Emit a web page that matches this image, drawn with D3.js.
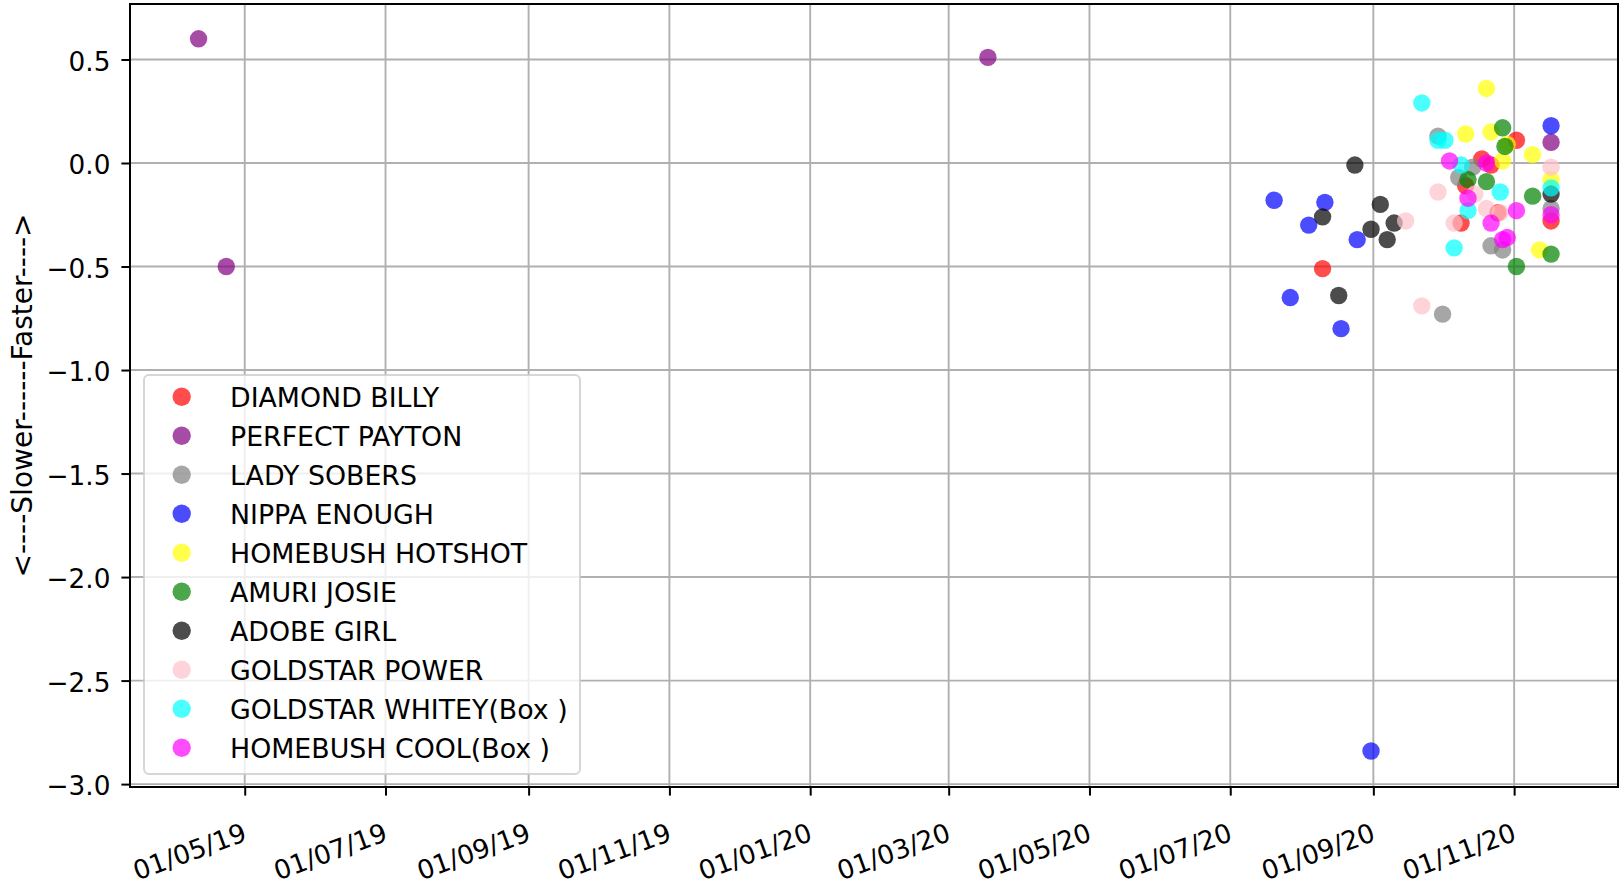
<!DOCTYPE html>
<html>
<head>
<meta charset="utf-8">
<script src="https://cdn.jsdelivr.net/npm/d3@7"></script>
<style>
  body { margin: 0; background: #fff; }
  text { font-family: "DejaVu Sans", sans-serif; fill: #000; }
</style>
</head>
<body>
<div id="chart"></div>
<script>
// horses, in legend order
const horses = [
    "DIAMOND BILLY",
    "PERFECT PAYTON",
    "LADY SOBERS",
    "NIPPA ENOUGH",
    "HOMEBUSH HOTSHOT",
    "AMURI JOSIE",
    "ADOBE GIRL",
    "GOLDSTAR POWER",
    "GOLDSTAR WHITEY(Box )",
    "HOMEBUSH COOL(Box )"
];
const horseColors = ["red", "purple", "grey", "blue", "yellow", "green", "black", "pink", "cyan", "magenta"];

// [race date, speed difference]
const diamondBilly = [["2020-08-10", -0.51], ["2020-10-09", -0.29], ["2020-10-11", -0.11], ["2020-10-18", 0.02],
    ["2020-10-22", -0.01], ["2020-10-25", -0.24], ["2020-11-02", 0.11], ["2020-11-17", -0.28]];
const perfectPayton = [["2019-04-11", 0.60], ["2019-04-23", -0.50], ["2020-03-18", 0.51], ["2020-11-17", 0.10]];
const ladySobers = [["2020-09-29", 0.13], ["2020-10-01", -0.73], ["2020-10-08", -0.07], ["2020-10-14", -0.02],
    ["2020-10-22", -0.40], ["2020-10-27", -0.42], ["2020-11-17", -0.22]];
const nippaEnough = [["2020-07-20", -0.18], ["2020-07-27", -0.65], ["2020-08-04", -0.30], ["2020-08-11", -0.19],
    ["2020-08-18", -0.80], ["2020-08-25", -0.37], ["2020-08-31", -2.84], ["2020-11-17", 0.18]];
const homebushHotshot = [["2020-10-11", 0.14], ["2020-10-20", 0.36], ["2020-10-22", 0.15], ["2020-10-27", 0.01],
    ["2020-10-29", 0.09], ["2020-11-09", 0.04], ["2020-11-12", -0.42], ["2020-11-17", -0.08]];
const amuriJosie = [["2020-10-12", -0.08], ["2020-10-20", -0.09], ["2020-10-27", 0.17], ["2020-10-28", 0.08],
    ["2020-11-02", -0.50], ["2020-11-09", -0.16], ["2020-11-17", -0.44]];
const adobeGirl = [["2020-08-10", -0.26], ["2020-08-17", -0.64], ["2020-08-24", -0.01], ["2020-08-31", -0.32],
    ["2020-09-04", -0.20], ["2020-09-07", -0.37], ["2020-09-10", -0.29], ["2020-11-17", -0.15]];
const goldstarPower = [["2020-09-15", -0.28], ["2020-09-22", -0.69], ["2020-09-29", -0.14], ["2020-10-06", -0.29],
    ["2020-10-15", -0.15], ["2020-10-20", -0.22], ["2020-10-26", -0.24], ["2020-11-17", -0.02]];
const goldstarWhitey = [["2020-09-22", 0.29], ["2020-09-29", 0.11], ["2020-10-02", 0.11], ["2020-10-06", -0.41],
    ["2020-10-09", -0.01], ["2020-10-12", -0.23], ["2020-10-26", -0.14], ["2020-11-17", -0.12]];
const homebushCool = [["2020-10-04", 0.01], ["2020-10-12", -0.17], ["2020-10-20", 0.00], ["2020-10-22", -0.29],
    ["2020-10-27", -0.37], ["2020-10-29", -0.36], ["2020-11-02", -0.23], ["2020-11-17", -0.25]];

const seriesValues = [diamondBilly, perfectPayton, ladySobers, nippaEnough, homebushHotshot,
    amuriJosie, adobeGirl, goldstarPower, goldstarWhitey, homebushCool];

const yTicks = [-3.0, -2.5, -2.0, -1.5, -1.0, -0.5, 0.0, 0.5];
const yLabel = "<----Slower------Faster---->";

// setting
const width = 1619;
const height = 888;
const plot = { left: 130, right: 1618, top: 4, bottom: 787 };
const tickFont = "26.3px";
const parseDate = d3.timeParse("%Y-%m-%d");

const series = horses.map((name, i) => ({
    name: name,
    color: horseColors[i],
    points: seriesValues[i].map(d => ({ date: parseDate(d[0]), value: d[1] }))
}));

const x = d3.scaleTime()
    .domain([new Date(2019, 2, 12, 7), new Date(2020, 11, 16)])
    .range([plot.left, plot.right]);
const y = d3.scaleLinear()
    .domain([-3.014, 0.768])
    .range([plot.bottom, plot.top]);

const xTicks = d3.timeMonth.every(2).range(new Date(2019, 4, 1), new Date(2020, 11, 2));

const svg = d3.select("#chart").append("svg")
    .attr("width", width)
    .attr("height", height);

// grid
svg.append("g").selectAll("line")
    .data(xTicks)
    .enter().append("line")
    .attr("x1", d => x(d)).attr("x2", d => x(d))
    .attr("y1", plot.top).attr("y2", plot.bottom)
    .attr("stroke", "#b0b0b0").attr("stroke-width", 1.9);
svg.append("g").selectAll("line")
    .data(yTicks)
    .enter().append("line")
    .attr("x1", plot.left).attr("x2", plot.right)
    .attr("y1", d => y(d)).attr("y2", d => y(d))
    .attr("stroke", "#b0b0b0").attr("stroke-width", 1.9);

// points
svg.append("g").selectAll("g")
    .data(series)
    .enter().append("g")
    .attr("fill", d => d.color)
    .attr("fill-opacity", 0.7)
    .selectAll("circle")
    .data(d => d.points)
    .enter().append("circle")
    .attr("cx", d => x(d.date))
    .attr("cy", d => y(d.value))
    .attr("r", 8.7);

// axes
const yAxis = svg.append("g")
    .attr("transform", `translate(${plot.left},0)`)
    .call(d3.axisLeft(y).tickValues(yTicks).tickFormat(d3.format(".1f")).tickSize(8.6).tickPadding(11));
yAxis.select(".domain").remove();
yAxis.selectAll("line").attr("stroke-width", 2);
yAxis.selectAll("text")
    .attr("dy", "10.8")
    .style("font-size", tickFont)
    .style("font-family", "DejaVu Sans");

const xAxis = svg.append("g")
    .attr("transform", `translate(0,${plot.bottom})`)
    .call(d3.axisBottom(x).tickValues(xTicks).tickFormat(d3.timeFormat("%d/%m/%y")).tickSize(8.6));
xAxis.select(".domain").remove();
xAxis.selectAll("line").attr("stroke-width", 2);
xAxis.selectAll("text")
    .attr("x", 0).attr("y", 0).attr("dy", 0)
    .attr("text-anchor", "end")
    .attr("transform", "translate(3,53) rotate(-20)")
    .style("font-size", tickFont)
    .style("font-family", "DejaVu Sans");

// frame
svg.append("rect")
    .attr("x", plot.left).attr("y", plot.top)
    .attr("width", plot.right - plot.left)
    .attr("height", plot.bottom - plot.top)
    .attr("fill", "none")
    .attr("stroke", "#000")
    .attr("stroke-width", 2);

// y label
svg.append("text")
    .attr("transform", `translate(32,${(plot.top + plot.bottom) / 2}) rotate(-90)`)
    .attr("text-anchor", "middle")
    .style("font-size", "28px")
    .text(yLabel);

///* Legend *///
const legend = svg.append("g");
legend.append("rect")
    .attr("x", 144).attr("y", 375)
    .attr("width", 436).attr("height", 399)
    .attr("rx", 5).attr("ry", 5)
    .attr("fill", "#fff").attr("fill-opacity", 0.8)
    .attr("stroke", "#cccccc").attr("stroke-opacity", 0.8)
    .attr("stroke-width", 2);
const items = legend.selectAll(".item")
    .data(series)
    .enter().append("g")
    .attr("class", "item")
    .attr("transform", (d, i) => `translate(0,${396.7 + i * 39})`);
items.append("circle")
    .attr("cx", 181.7).attr("cy", 0).attr("r", 9.2)
    .attr("fill", d => d.color).attr("fill-opacity", 0.7);
items.append("text")
    .attr("x", 230).attr("y", 10)
    .style("font-size", "26.8px")
    .text(d => d.name);
</script>
</body>
</html>
